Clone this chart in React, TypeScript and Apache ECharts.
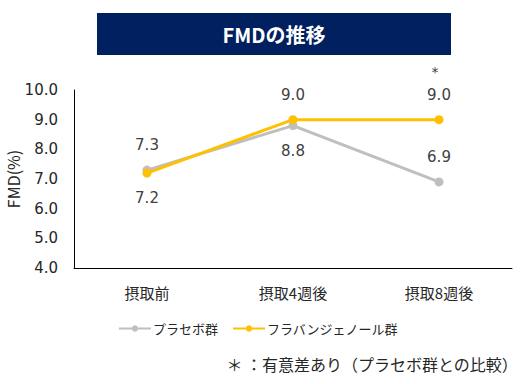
import React, { useEffect, useRef } from "react";
import * as echarts from "echarts";

const categories = ["摂取前", "摂取4週後", "摂取8週後"];
const placebo = [7.3, 8.8, 6.9];
const flavangenol = [7.2, 9.0, 9.0];
const placeboLabelPos = ["top", "bottom", "top"];
const flavLabelPos = ["bottom", "top", "top"];
const seriesNames = ["プラセボ群", "フラバンジェノール群"];
const title = "FMDの推移";
const yName = "FMD(%)";
const footnote = "＊ ：有意差あり（プラセボ群との比較）";
const sigIndex = 2;

const FONT = "DejaVu Sans";
const JP = "Noto Sans CJK JP";

export default function App() {
  const ref = useRef<HTMLDivElement>(null);
  useEffect(() => {
    const chart = echarts.init(ref.current!, null, { renderer: "svg" });
    const mk = (vals: number[], pos: string[]) =>
      vals.map((v, i) => ({ value: v, label: { position: pos[i] } }));
    chart.setOption({
      animation: false,
      backgroundColor: "#fff",
      graphic: [
        {
          type: "rect",
          shape: { x: 97, y: 13, width: 354, height: 42 },
          style: { fill: "#002060" },
        },
        {
          type: "text",
          x: 274,
          y: 34,
          style: {
            text: title,
            fill: "#fff",
            fontFamily: JP,
            fontSize: 20,
            fontWeight: "bold",
            align: "center",
            verticalAlign: "middle",
          },
        },
        {
          type: "text",
          right: 3,
          top: 356,
          style: { text: footnote, fill: "#262626", fontFamily: JP, fontSize: 16 },
        },
      ],
      grid: {
        left: 74,
        right: 9,
        top: 90,
        bottom: 116,
        containLabel: false,
        outerBoundsMode: "none",
      },
      legend: {
        data: seriesNames,
        bottom: 44,
        left: 113,
        itemWidth: 32,
        itemHeight: 8,
        itemGap: 14,
        textStyle: { fontFamily: JP, fontSize: 13, color: "#262626", padding: [0, 0, 0, -3] },
      },
      xAxis: {
        type: "category",
        data: categories,
        axisLine: { lineStyle: { color: "#000", width: 1 } },
        axisTick: { show: false },
        axisLabel: { fontFamily: JP, fontSize: 15, color: "#262626", margin: 17 },
      },
      yAxis: {
        type: "value",
        min: 4,
        max: 10,
        interval: 1,
        name: yName,
        nameLocation: "middle",
        nameGap: 53,
        nameMoveOverlap: false,
        nameRotate: 90,
        nameTextStyle: { fontFamily: JP, fontSize: 16, color: "#262626" },
        axisLine: { show: true, lineStyle: { color: "#000", width: 1 } },
        axisTick: { show: false },
        splitLine: { show: false },
        axisLabel: {
          fontFamily: FONT,
          fontSize: 15,
          color: "#262626",
          margin: 16,
          formatter: (v: number) => v.toFixed(1),
        },
      },
      series: [
        {
          name: seriesNames[0],
          type: "line",
          data: mk(placebo, placeboLabelPos),
          color: "#BFBFBF",
          lineStyle: { width: 3, color: "#BFBFBF" },
          symbol: "circle",
          symbolSize: 9,
          itemStyle: { color: "#BFBFBF" },
          label: {
            show: true,
            distance: 13,
            fontFamily: FONT,
            fontSize: 15,
            color: "#404040",
            formatter: (p: any) => Number(p.value).toFixed(1),
          },
          z: 2,
        },
        {
          name: seriesNames[1],
          type: "line",
          data: mk(flavangenol, flavLabelPos),
          color: "#FFC000",
          lineStyle: { width: 3, color: "#FFC000" },
          symbol: "circle",
          symbolSize: 9,
          itemStyle: { color: "#FFC000" },
          label: {
            show: true,
            distance: 13,
            fontFamily: FONT,
            fontSize: 15,
            color: "#404040",
            formatter: (p: any) => Number(p.value).toFixed(1),
          },
          markPoint: {
            symbol: "circle",
            symbolSize: 0,
            data: [
              {
                coord: [categories[sigIndex], flavangenol[sigIndex]],
                label: {
                  show: true,
                  formatter: "*",
                  offset: [-4, -48],
                  fontFamily: FONT,
                  fontSize: 14,
                  color: "#404040",
                },
              },
            ],
          },
          z: 3,
        },
      ],
    });
    return () => chart.dispose();
  }, []);
  return <div ref={ref} style={{ width: 521, height: 384, position: "absolute", left: 0, top: 0 }} />;
}
